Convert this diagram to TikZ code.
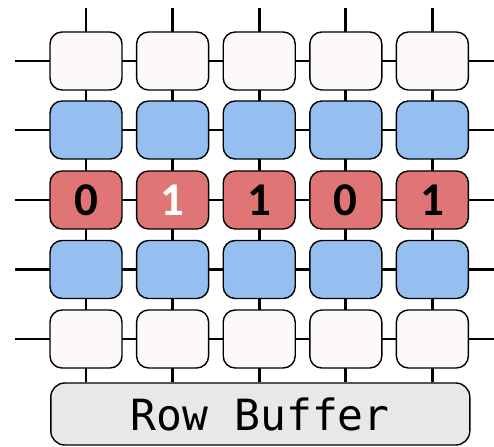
\documentclass[tikz,border=0pt]{standalone}
\usepackage{fontspec}
\newfontfamily\digitfont{Carlito}
\newfontfamily\monofont{DejaVu Sans Mono}
\usetikzlibrary{backgrounds}
\definecolor{cellw}{RGB}{253,249,248}
\definecolor{cellb}{RGB}{148,191,240}
\definecolor{cellr}{RGB}{224,117,117}
\definecolor{bufg}{RGB}{232,232,232}
\tikzset{
  cell/.style={draw=black, line width=1.4pt, rounded corners=12pt, minimum width=72pt, minimum height=58pt, inner sep=0pt},
  wire/.style={line width=2.9pt, black},
  dig/.style={font=\digitfont\bfseries\fontsize{47}{47}\selectfont}
}
\begin{document}
\begin{tikzpicture}[x=1pt,y=-1pt]
\useasboundingbox (0,0) rectangle (494,446);
% rows
\foreach \c/\x in {1/86,2/172.6,3/259.2,4/345.8,5/432.4}{
  \node[cell, fill=cellw] (r1c\c) at (\x,61) {};
  \node[cell, fill=cellb] (r2c\c) at (\x,130) {};
  \node[cell, fill=cellr] (r3c\c) at (\x,200) {};
  \node[cell, fill=cellb] (r4c\c) at (\x,269.5) {};
  \node[cell, fill=cellw] (r5c\c) at (\x,339) {};
  \coordinate (top\c) at (\x,8);
}
\node[dig, text=black] (d1) at (r3c1) {0};
\node[dig, text=white] (d2) at (r3c2) {1};
\node[dig, text=black] (d3) at (r3c3) {1};
\node[dig, text=black] (d4) at (r3c4) {0};
\node[dig, text=black] (d5) at (r3c5) {1};
\node[draw=black, line width=1.4pt, rounded corners=14pt, fill=bufg, minimum width=419pt, minimum height=62pt, inner sep=0pt, font=\monofont\fontsize{43}{43}\selectfont] (buf) at (260.3,414) {Row Buffer};
\foreach \r/\y in {1/61,2/130,3/200,4/269.5,5/339}{
  \coordinate (L\r) at (15,\y);
  \coordinate (R\r) at (494,\y);
}
\begin{scope}[on background layer]
\foreach \r in {1,...,5}{
  \draw[wire] (L\r) -- (r\r c1.center) -- (r\r c2.center) -- (r\r c3.center) -- (r\r c4.center) -- (r\r c5.center) -- (R\r);
}
\foreach \c in {1,...,5}{
  \draw[wire] (top\c) -- (r1c\c.center) -- (r2c\c.center) -- (r3c\c.center) -- (r4c\c.center) -- (r5c\c.center) -- (r5c\c.center |- buf.north);
}
\end{scope}
\end{tikzpicture}
\end{document}
